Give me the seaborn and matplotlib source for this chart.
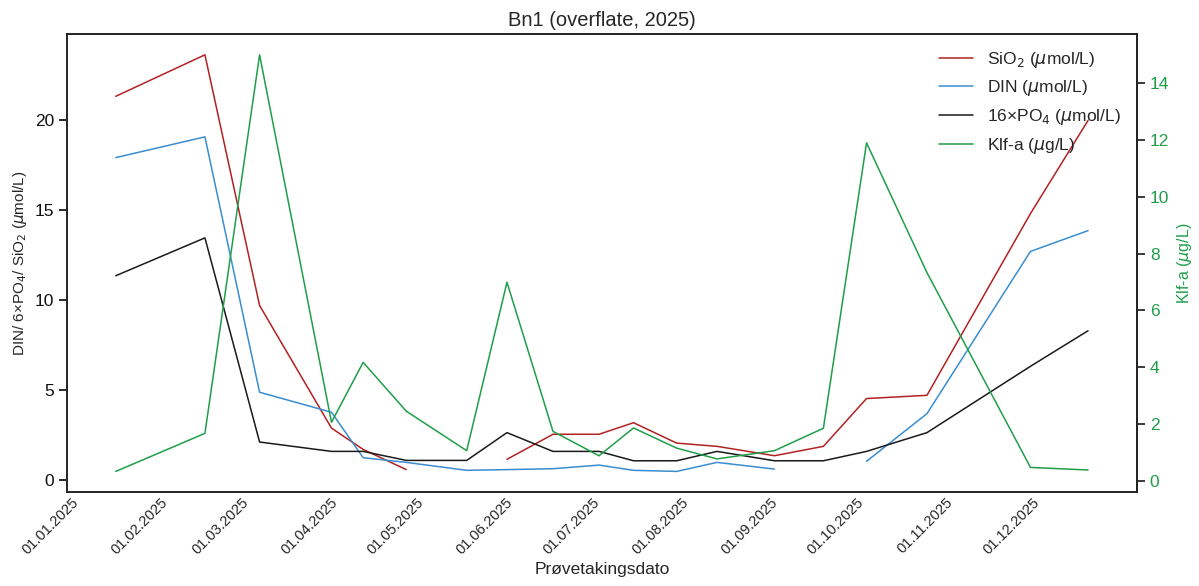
import matplotlib
matplotlib.use("Agg")
import matplotlib.pyplot as plt
import matplotlib.dates as mdates
from matplotlib.lines import Line2D
import seaborn as sns
import numpy as np
import pandas as pd

# --- Data ---
dates = ["2025-01-13", "2025-02-13", "2025-03-04", "2025-03-29", "2025-04-09",
         "2025-04-24", "2025-05-15", "2025-05-29", "2025-06-14", "2025-06-30",
         "2025-07-12", "2025-07-27", "2025-08-10", "2025-08-30", "2025-09-16",
         "2025-10-01", "2025-10-22", "2025-11-27", "2025-12-17"]

sio2 = [21.3, 23.6, 9.7, 2.9, 1.72, 0.6, np.nan, 1.17, 2.56, 2.56,
        3.2, 2.07, 1.89, 1.37, 1.89, 4.54, 4.72, 14.8, 19.96]
din = [17.9, 19.05, 4.89, 3.78, 1.26, 1.0, 0.56, 0.6, 0.65, 0.85,
       0.56, 0.5, 1.0, 0.63, np.nan, 1.06, 3.7, 12.7, 13.85]
po4_16 = [11.35, 13.45, 2.13, 1.61, 1.61, 1.11, 1.11, 2.65, 1.61, 1.61,
          1.09, 1.09, 1.61, 1.09, 1.09, 1.61, 2.65, 6.33, 8.3]
klfa = [0.33, 1.67, 15.0, 2.06, 4.17, 2.45, 1.06, 6.99, 1.74, 0.88,
        1.86, 1.15, 0.77, 1.06, 1.85, 11.9, 7.33, 0.47, 0.38]

month_ticks = pd.date_range("2025-01-01", "2025-12-01", freq="MS")

C_SIO2 = "#b22222"
C_DIN = "#3a8dd0"
C_PO4 = "#1a1a1a"
C_KLF = "#1f9e4a"


def segments(values):
    # del opp serien der det mangler verdier, slik at linjen brytes
    df = pd.DataFrame({"dato": pd.to_datetime(dates), "verdi": values})
    df["seg"] = df["verdi"].isna().cumsum()
    return df.dropna()


sns.set_theme(style="ticks")
plt.rcParams["font.family"] = ["Liberation Sans", "DejaVu Sans"]
plt.rcParams["mathtext.fontset"] = "dejavusans"

fig, ax = plt.subplots(figsize=(11.99, 5.86), dpi=100)
ax2 = ax.twinx()

series = [
    (ax, sio2, C_SIO2, r"SiO$_2$ ($\mu$mol/L)"),
    (ax, din, C_DIN, r"DIN ($\mu$mol/L)"),
    (ax, po4_16, C_PO4, r"16×PO$_4$ ($\mu$mol/L)"),
    (ax2, klfa, C_KLF, r"Klf-a ($\mu$g/L)"),
]
handles = []
for a, vals, col, lab in series:
    sns.lineplot(data=segments(vals), x="dato", y="verdi", units="seg",
                 estimator=None, color=col, lw=1.1, ax=a, legend=False)
    handles.append(Line2D([], [], color=col, lw=1.1, label=lab))

ax.set_xticks(month_ticks)
ax.xaxis.set_major_formatter(mdates.DateFormatter("%d.%m.%Y"))
plt.setp(ax.get_xticklabels(), rotation=45, ha="right", fontsize=10.5)
ax.tick_params(axis="x", length=0, pad=2)
ax.set_yticks([0, 5, 10, 15, 20])
ax2.set_yticks(range(0, 15, 2))
ax.tick_params(axis="y", labelsize=12.5, colors="#111111")
ax2.tick_params(axis="y", labelsize=12.5, colors="#222222", labelcolor=C_KLF)
ax2.spines["right"].set_color("#222222")
for s in ax.spines.values():
    s.set_color("#222222")

ax.set_xlabel("Prøvetakingsdato", fontsize=12.5)
ax.set_ylabel(r"DIN/ 6×PO$_4$/ SiO$_2$ ($\mu$mol/L)", fontsize=11)
ax2.set_ylabel(r"Klf-a ($\mu$g/L)", fontsize=11.5, color=C_KLF)
ax.set_title("Bn1 (overflate, 2025)", fontsize=14.5)

ax.legend(handles=handles, loc="upper right", frameon=False, fontsize=12.5)

fig.subplots_adjust(left=0.056, right=0.948, top=0.942, bottom=0.160)
fig.savefig("out.png", dpi=100)
plt.close()
